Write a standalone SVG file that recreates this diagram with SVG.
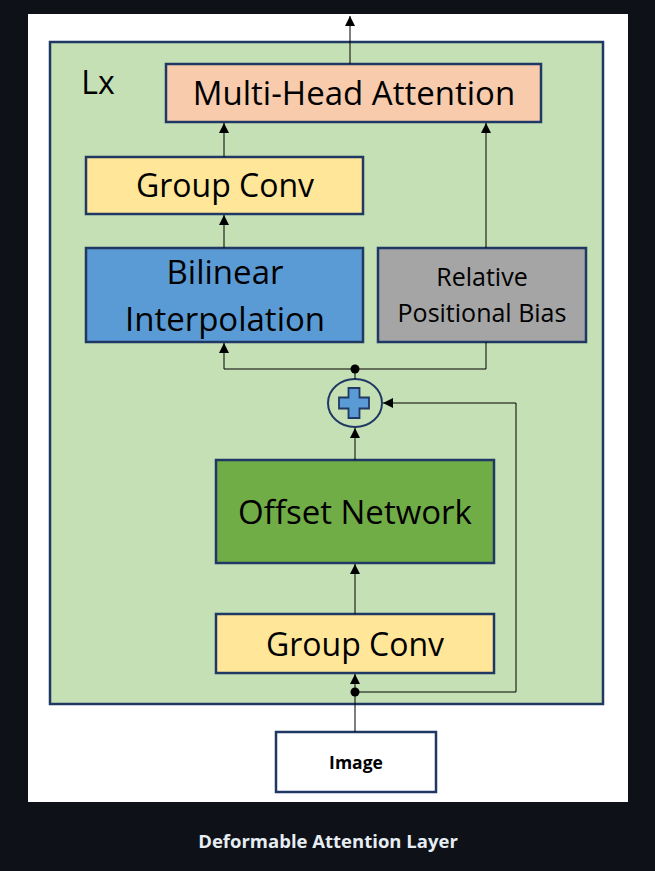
<svg xmlns="http://www.w3.org/2000/svg" width="655" height="871" viewBox="0 0 655 871">
<defs>
<marker id="arr" viewBox="0 0 10 10" refX="10" refY="5" markerWidth="10" markerHeight="10" markerUnits="userSpaceOnUse" orient="auto"><path d="M0,0 L10,5 L0,10 z" fill="#000"/></marker>
<style>
.box{stroke:#203864;stroke-width:2.5}
.t{font-family:"Open Sans","Liberation Sans",sans-serif;fill:#000;text-anchor:middle}
.ln{fill:none;stroke:#000;stroke-width:1;marker-end:url(#arr)}
.pl{fill:none;stroke:#000;stroke-width:1}
</style>
</defs>
<rect x="0" y="0" width="655" height="871" fill="#0e1117"/>
<rect x="28" y="14" width="600" height="788" fill="#ffffff"/>
<g id="layer"><rect x="50" y="42" width="553" height="662" fill="#c5e0b4" class="box"/>
<text class="t" x="98" y="94" font-size="32">Lx</text></g>
<g id="mha"><rect x="166" y="64" width="375" height="58" fill="#f8cbad" class="box"/><text class="t" x="354" y="105" font-size="33">Multi-Head Attention</text></g>
<g id="gconv1"><rect x="86" y="157" width="277" height="57" fill="#ffe699" class="box"/><text class="t" x="225" y="197" font-size="32">Group Conv</text></g>
<g id="bilinear"><rect x="86" y="248" width="277" height="94" fill="#5b9bd5" class="box"/><text class="t" x="225" y="284" font-size="33">Bilinear</text><text class="t" x="225" y="331" font-size="33">Interpolation</text></g>
<g id="rpb"><rect x="378" y="248" width="208" height="94" fill="#a5a5a5" class="box"/><text class="t" x="482" y="286" font-size="25">Relative</text><text class="t" x="482" y="322" font-size="25">Positional Bias</text></g>
<g id="plus"><ellipse cx="355" cy="403" rx="27" ry="24" fill="#c5e0b4" stroke="#203864" stroke-width="2"/><path d="M348.5,388 h11 v9.5 h9.5 v11 h-9.5 v9.5 h-11 v-9.5 h-9.5 v-11 h9.5 z" fill="#5b9bd5" stroke="#203864" stroke-width="1.8"/></g>
<g id="offset"><rect x="216" y="460" width="278" height="103" fill="#70ad47" class="box"/><text class="t" x="355" y="524" font-size="33">Offset Network</text></g>
<g id="gconv2"><rect x="216" y="614" width="278" height="59" fill="#ffe699" class="box"/><text class="t" x="355" y="656" font-size="32">Group Conv</text></g>
<g id="image"><rect x="276" y="732" width="160" height="60" fill="#ffffff" class="box"/><text class="t" x="356" y="769" font-size="17.5" font-weight="bold">Image</text></g>
<g id="connectors">
<line class="ln" x1="350" y1="64" x2="350" y2="16"/>
<line class="ln" x1="224" y1="157" x2="224" y2="123"/>
<line class="ln" x1="224" y1="248" x2="224" y2="215"/>
<line class="ln" x1="486" y1="248" x2="486" y2="123"/>
<polyline class="ln" points="355,369 224,369 224,343"/>
<polyline class="pl" points="355,369 486,369 486,342" stroke="#555"/>
<line class="pl" x1="355" y1="379" x2="355" y2="369"/>
<circle cx="355" cy="369" r="4.5" fill="#000"/>
<line class="ln" x1="355" y1="460" x2="355" y2="428"/>
<line class="ln" x1="355" y1="614" x2="355" y2="564"/>
<line class="pl" x1="355" y1="732" x2="355" y2="692"/>
<line class="ln" x1="355" y1="692" x2="355" y2="674"/>
<polyline class="ln" points="355,692 516,692 516,403 383,403"/>
<circle cx="355" cy="692" r="4.5" fill="#000"/>
</g>
<text x="328" y="848" font-family="'Open Sans','Noto Sans',sans-serif" font-size="18.5" font-weight="bold" fill="#e6edf3" text-anchor="middle">Deformable Attention Layer</text>
</svg>
